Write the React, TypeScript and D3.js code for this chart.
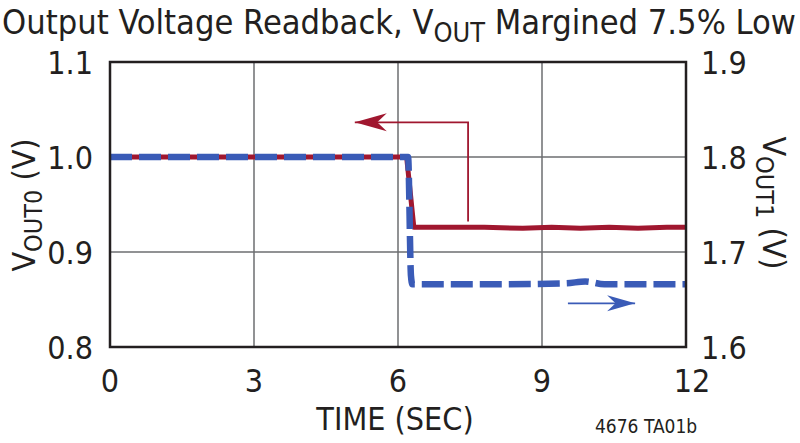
import React from 'react';
import * as d3 from 'd3';

// time (sec) and readback voltages
const vout0Time = [0, 6.18, 6.33, 7.0, 7.8, 8.6, 9.2, 9.8, 10.4, 11.0, 11.6, 12];
const vout0Values = [1.0, 1.0, 0.926, 0.926, 0.926, 0.925, 0.926, 0.925, 0.926, 0.925, 0.926, 0.926];
const vout1Time = [0, 6.21, 6.27, 6.3, 8.0, 9.5, 9.9, 10.3, 12];
const vout1Values = [1.8, 1.8, 1.675, 1.666, 1.666, 1.667, 1.669, 1.666, 1.666];

const xTicks = [0, 3, 6, 9, 12];
const leftTicks = [0.8, 0.9, 1.0, 1.1];
const rightTicks = [1.6, 1.7, 1.8, 1.9];

const W = 800;
const H = 443;
const margin = { top: 62, right: 114, bottom: 96, left: 110 };
const FONT = "'DejaVu Sans Condensed', 'Liberation Sans Narrow', sans-serif";
const RED = '#a0172f';
const BLUE = '#3a5bb7';
const INK = '#231f20';

export default function App() {
  const innerW = W - margin.left - margin.right;
  const innerH = H - margin.top - margin.bottom;

  const x = d3.scaleLinear().domain([0, 12]).range([margin.left, margin.left + innerW]);
  const yL = d3.scaleLinear().domain([0.8, 1.1]).range([margin.top + innerH, margin.top]);
  const yR = d3.scaleLinear().domain([1.6, 1.9]).range([margin.top + innerH, margin.top]);

  const line0 = d3.line<number>().x((_, i) => x(vout0Time[i])).y(d => yL(d));
  const line1 = d3.line<number>().x((_, i) => x(vout1Time[i])).y(d => yR(d)).curve(d3.curveMonotoneX);

  // annotation arrows (data coords)
  const redArrow = [
    [7.46, 0.932],
    [7.46, 1.0365],
    [5.1, 1.0365],
  ].map(([t, v]) => [x(t), yL(v)]);
  const blueArrow = [
    [9.54, 1.646],
    [10.94, 1.646],
  ].map(([t, v]) => [x(t), yR(v)]);

  const head = (tipX: number, tipY: number, dir: number, len: number, half: number) =>
    `M${tipX},${tipY} L${tipX - dir * len},${tipY - half} L${tipX - dir * len * 0.7},${tipY} L${tipX - dir * len},${tipY + half} Z`;

  return (
    <svg width={W} height={H} style={{ position: 'absolute', left: 0, top: 0, background: '#fff' }} fontFamily={FONT}>
      <rect width={W} height={H} fill="#fff" />
      {/* title */}
      <text x={2} y={34} fontSize={33} fill={INK} textLength={794} lengthAdjust="spacingAndGlyphs">
        Output Voltage Readback, V
        <tspan fontSize={26} dy={8}>OUT</tspan>
        <tspan dy={-8}> Margined 7.5% Low</tspan>
      </text>

      {/* grid */}
      {xTicks.slice(1, -1).map(t => (
        <line key={'gx' + t} x1={x(t)} x2={x(t)} y1={margin.top} y2={margin.top + innerH} stroke="#6d6e71" strokeWidth={1.5} />
      ))}
      {leftTicks.slice(1, -1).map(t => (
        <line key={'gy' + t} x1={margin.left} x2={margin.left + innerW} y1={yL(t)} y2={yL(t)} stroke="#6d6e71" strokeWidth={1.5} />
      ))}

      {/* data */}
      <path d={line0(vout0Values) || ''} fill="none" stroke={RED} strokeWidth={5} strokeLinejoin="round" />
      <path d={line1(vout1Values) || ''} fill="none" stroke={BLUE} strokeWidth={6.5} strokeDasharray="22 7" strokeLinejoin="round" />

      {/* arrows */}
      <polyline points={redArrow.map(p => p.join(',')).join(' ')} fill="none" stroke={RED} strokeWidth={1.8} />
      <path d={head(redArrow[2][0], redArrow[2][1], -1, 32, 9)} fill={RED} />
      <polyline points={blueArrow.map(p => p.join(',')).join(' ')} fill="none" stroke={BLUE} strokeWidth={1.8} />
      <path d={head(blueArrow[1][0], blueArrow[1][1], 1, 28, 8)} fill={BLUE} />

      {/* frame */}
      <rect x={margin.left} y={margin.top} width={innerW} height={innerH} fill="none" stroke={INK} strokeWidth={2.5} />

      {/* left ticks */}
      {leftTicks.map(t => (
        <text key={'l' + t} x={93} y={yL(t)} dy="0.36em" textAnchor="end" fontSize={32} fill={INK}>
          {t.toFixed(1)}
        </text>
      ))}
      {/* right ticks */}
      {rightTicks.map(t => (
        <text key={'r' + t} x={701} y={yR(t)} dy="0.36em" textAnchor="start" fontSize={32} fill={INK}>
          {t.toFixed(1)}
        </text>
      ))}
      {/* x ticks */}
      {xTicks.map(t => (
        <text key={'x' + t} x={x(t) + (t === 12 ? 6 : 0)} y={392} textAnchor="middle" fontSize={32} fill={INK}>
          {t}
        </text>
      ))}

      <text x={395} y={430} textAnchor="middle" fontSize={32} fill={INK}>TIME (SEC)</text>
      <text x={595} y={433} textAnchor="start" fontSize={19} fill={INK}>4676 TA01b</text>

      {/* axis titles */}
      <text transform={`translate(35,205) rotate(-90)`} textAnchor="middle" fontSize={32} fill={INK}>
        V<tspan fontSize={25} dy={7}>OUT0</tspan>
        <tspan dy={-7}> (V)</tspan>
      </text>
      <text transform={`translate(763,203) rotate(90)`} textAnchor="middle" fontSize={32} fill={INK}>
        V<tspan fontSize={25} dy={7}>OUT1</tspan>
        <tspan dy={-7}> (V)</tspan>
      </text>
    </svg>
  );
}
